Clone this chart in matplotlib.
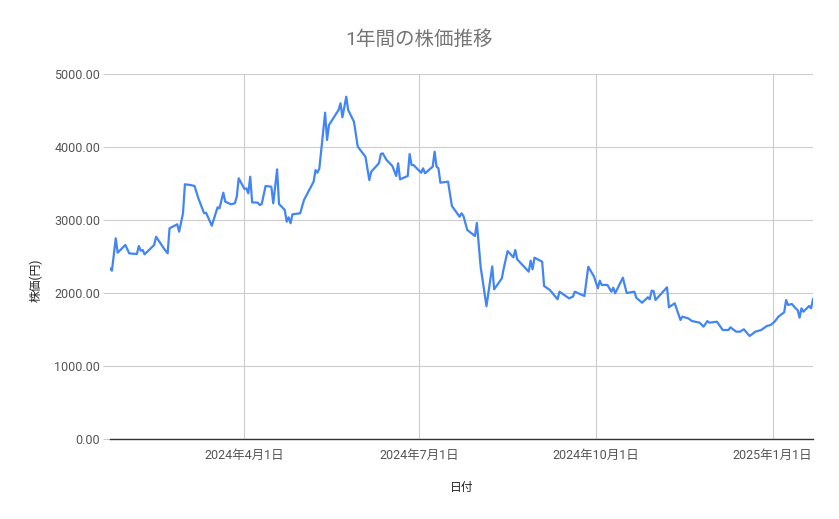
"""1年間の株価推移 (Google Sheets style line chart)."""

import matplotlib
matplotlib.use("Agg")
import matplotlib.pyplot as plt
import matplotlib.ticker as mticker
import pandas as pd

plt.rcParams["font.family"] = ["Roboto", "Noto Sans CJK JP", "DejaVu Sans"]

dates = [
    "2024-01-22", "2024-01-23", "2024-01-25", "2024-01-26", "2024-01-30",
    "2024-02-01", "2024-02-05", "2024-02-06", "2024-02-07", "2024-02-08",
    "2024-02-09", "2024-02-14", "2024-02-15", "2024-02-19", "2024-02-21",
    "2024-02-22", "2024-02-26", "2024-02-27", "2024-02-29", "2024-03-01",
    "2024-03-04", "2024-03-06", "2024-03-08", "2024-03-11", "2024-03-12",
    "2024-03-15", "2024-03-18", "2024-03-19", "2024-03-21", "2024-03-22",
    "2024-03-25", "2024-03-27", "2024-03-28", "2024-03-29", "2024-04-01",
    "2024-04-02", "2024-04-03", "2024-04-04", "2024-04-05", "2024-04-08",
    "2024-04-09", "2024-04-10", "2024-04-12", "2024-04-15", "2024-04-16",
    "2024-04-18", "2024-04-19", "2024-04-22", "2024-04-23", "2024-04-24",
    "2024-04-25", "2024-04-26", "2024-04-30", "2024-05-02", "2024-05-07",
    "2024-05-08", "2024-05-09", "2024-05-10", "2024-05-13", "2024-05-14",
    "2024-05-15", "2024-05-20", "2024-05-21", "2024-05-22", "2024-05-24",
    "2024-05-25", "2024-05-28", "2024-05-30", "2024-06-03", "2024-06-05",
    "2024-06-06", "2024-06-10", "2024-06-11", "2024-06-12", "2024-06-14",
    "2024-06-17", "2024-06-19", "2024-06-20", "2024-06-21", "2024-06-25",
    "2024-06-26", "2024-06-27", "2024-06-28", "2024-07-02", "2024-07-03",
    "2024-07-04", "2024-07-08", "2024-07-09", "2024-07-10", "2024-07-11",
    "2024-07-12", "2024-07-16", "2024-07-18", "2024-07-22", "2024-07-23",
    "2024-07-24", "2024-07-26", "2024-07-30", "2024-07-31", "2024-08-02",
    "2024-08-05", "2024-08-08", "2024-08-09", "2024-08-13", "2024-08-14",
    "2024-08-16", "2024-08-19", "2024-08-20", "2024-08-21", "2024-08-27",
    "2024-08-28", "2024-08-29", "2024-08-30", "2024-09-03", "2024-09-04",
    "2024-09-07", "2024-09-11", "2024-09-12", "2024-09-17", "2024-09-19",
    "2024-09-20", "2024-09-25", "2024-09-27", "2024-09-30", "2024-10-02",
    "2024-10-03", "2024-10-04", "2024-10-07", "2024-10-09", "2024-10-10",
    "2024-10-11", "2024-10-15", "2024-10-17", "2024-10-21", "2024-10-22",
    "2024-10-25", "2024-10-28", "2024-10-29", "2024-10-30", "2024-10-31",
    "2024-11-01", "2024-11-07", "2024-11-08", "2024-11-11", "2024-11-14",
    "2024-11-15", "2024-11-18", "2024-11-20", "2024-11-24", "2024-11-26",
    "2024-11-28", "2024-11-29", "2024-12-03", "2024-12-05", "2024-12-06",
    "2024-12-09", "2024-12-10", "2024-12-13", "2024-12-15", "2024-12-17",
    "2024-12-20", "2024-12-23", "2024-12-26", "2024-12-29", "2024-12-31",
    "2025-01-02", "2025-01-04", "2025-01-07", "2025-01-08", "2025-01-09",
    "2025-01-11", "2025-01-13", "2025-01-14", "2025-01-15", "2025-01-16",
    "2025-01-17", "2025-01-20", "2025-01-21", "2025-01-22",
]

prices = [
    2338, 2306, 2749, 2552, 2658,
    2543, 2534, 2644, 2580, 2589,
    2530, 2658, 2771, 2612, 2543,
    2886, 2941, 2840, 3092, 3489,
    3479, 3466, 3297, 3092, 3100,
    2922, 3174, 3160, 3374, 3251,
    3215, 3229, 3319, 3571, 3425,
    3434, 3365, 3593, 3242, 3237,
    3205, 3219, 3466, 3456, 3228,
    3694, 3219, 3137, 2977, 3037,
    2955, 3078, 3092, 3274, 3525,
    3685, 3648, 3708, 4470, 4096,
    4301, 4507, 4599, 4407, 4689,
    4507, 4347, 4004, 3867, 3548,
    3662, 3777, 3904, 3913, 3822,
    3740, 3603, 3777, 3557, 3603,
    3904, 3753, 3753, 3648, 3708,
    3640, 3730, 3936, 3730, 3708,
    3511, 3525, 3192, 3045, 3092,
    3055, 2863, 2781, 2960, 2350,
    1820, 2365, 2050, 2201, 2338,
    2575, 2489, 2589, 2461, 2292,
    2443, 2324, 2484, 2429, 2096,
    2041, 1914, 2018, 1927, 1950,
    2018, 1959, 2360, 2224, 2064,
    2169, 2110, 2110, 2018, 2073,
    1996, 2210, 2000, 2018, 1935,
    1867, 1941, 1914, 2032, 2027,
    1904, 2078, 1804, 1859, 1630,
    1676, 1653, 1616, 1593, 1538,
    1616, 1593, 1607, 1530, 1493,
    1493, 1530, 1470, 1470, 1503,
    1411, 1470, 1493, 1548, 1562,
    1607, 1676, 1736, 1904, 1836,
    1849, 1790, 1767, 1662, 1790,
    1744, 1822, 1790, 1914,
]

tick_dates = ["2024-04-01", "2024-07-01", "2024-10-01", "2025-01-01"]
tick_labels = ["2024年4月1日", "2024年7月1日", "2024年10月1日", "2025年1月1日"]
y_ticks = [0, 1000, 2000, 3000, 4000, 5000]

x = pd.to_datetime(dates)

fig = plt.figure(figsize=(8.39, 5.19), dpi=100)
ax = fig.add_axes([110 / 839, 1 - 439 / 519, 703 / 839, 365 / 519])

ax.plot(x, prices, color="#4285F4", linewidth=1.6, solid_joinstyle="round")

ax.set_xlim(x[0], x[-1])
ax.set_ylim(0, 5000)
ax.set_yticks(y_ticks)
ax.yaxis.set_major_formatter(mticker.FuncFormatter(lambda v, _: f"{v:.2f}"))
ax.set_xticks(pd.to_datetime(tick_dates))
ax.set_xticklabels(tick_labels)

ax.grid(True, color="#cccccc", linewidth=0.8)
ax.set_axisbelow(True)
for side in ("top", "right", "left"):
    ax.spines[side].set_visible(False)
ax.spines["bottom"].set_color("#333333")
ax.spines["bottom"].set_linewidth(1.0)
ax.tick_params(axis="y", length=5, color="#cccccc", labelsize=9, labelcolor="#555555", pad=2)
ax.tick_params(axis="x", length=0, labelsize=9, labelcolor="#555555", pad=7)

fig.text(0.5, 1 - 40 / 519, "1年間の株価推移", ha="center", va="center",
         fontsize=14, color="#757575")
fig.text(462 / 839, 1 - 487 / 519, "日付", ha="center", va="center",
         fontsize=8.5, color="#222222")
fig.text(36 / 839, 1 - 280 / 519, "株価(円)", ha="center", va="center",
         rotation=90, fontsize=8.5, color="#222222")

fig.savefig("out.png", dpi=100)
